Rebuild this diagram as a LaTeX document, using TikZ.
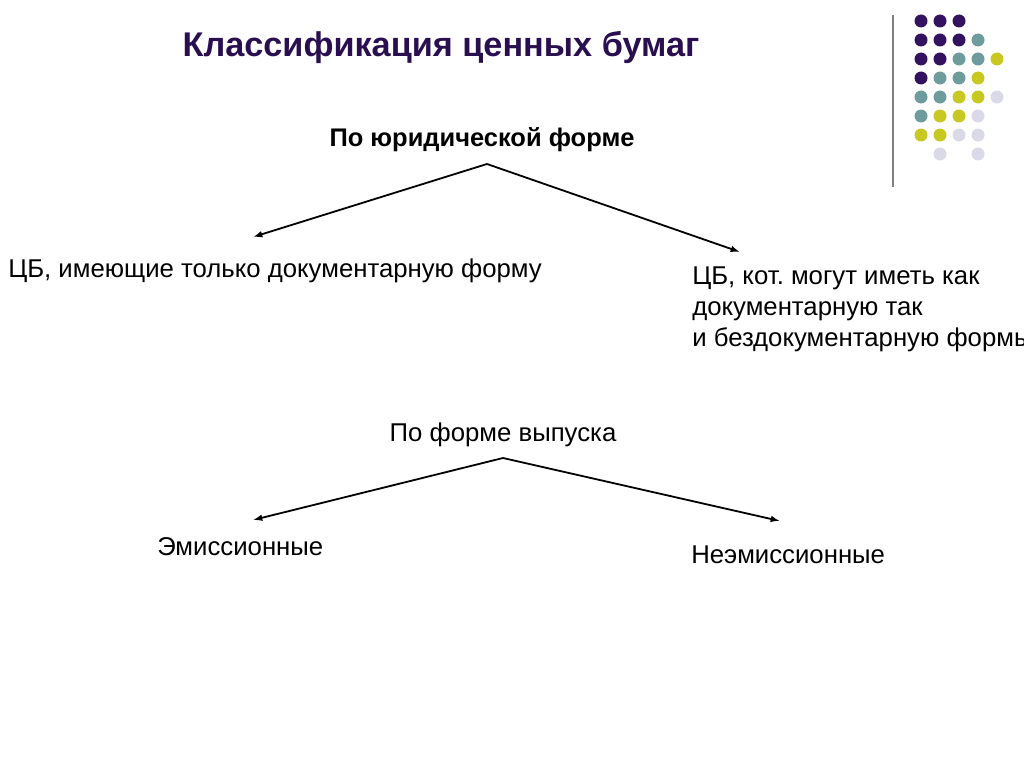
\documentclass[tikz,border=0pt]{standalone}
\usepackage{fontspec}
\setmainfont{Liberation Sans}
\usetikzlibrary{positioning,arrows.meta}

\definecolor{titlepurple}{HTML}{2A0F50}
\definecolor{dotpurple}{HTML}{33135F}
\definecolor{dotteal}{HTML}{6E9C9C}
\definecolor{dotyellow}{HTML}{C8C822}
\definecolor{dotlilac}{HTML}{D9D9E8}

\begin{document}
\frenchspacing
\begin{tikzpicture}[x=0.75pt,y=-0.75pt,
    txt/.style={inner sep=0pt,font=\fontsize{19.3}{23.25}\selectfont},
    head/.style={inner sep=0pt,font=\bfseries\fontsize{19.1}{22}\selectfont},
    branch/.style={line width=1.35pt,-{Latex[length=7pt,width=5pt]}}]
    \useasboundingbox (0,0) rectangle (1024,767);
    \clip (0,0) rectangle (1024,767);

    % title
    \node [inner sep=0pt,anchor=base,text=titlepurple,
           font=\bfseries\fontsize{25.7}{30}\selectfont] (title) at (441,57)
          {Классификация ценных бумаг};

    % decoration in the corner
    \draw [line width=1.4pt,gray] (893,15) -- (893,187);
    \foreach \c/\r/\col in {0/0/dotpurple,1/0/dotpurple,2/0/dotpurple,
        0/1/dotpurple,1/1/dotpurple,2/1/dotpurple,3/1/dotteal,
        0/2/dotpurple,1/2/dotpurple,2/2/dotteal,3/2/dotteal,4/2/dotyellow,
        0/3/dotpurple,1/3/dotteal,2/3/dotteal,3/3/dotyellow,
        0/4/dotteal,1/4/dotteal,2/4/dotyellow,3/4/dotyellow,4/4/dotlilac,
        0/5/dotteal,1/5/dotyellow,2/5/dotyellow,3/5/dotlilac,
        0/6/dotyellow,1/6/dotyellow,2/6/dotlilac,3/6/dotlilac,
        1/7/dotlilac,3/7/dotlilac}
      \fill [\col] (921+19*\c,21+19*\r) circle (6.5);

    % first split
    \node [head,anchor=base] (jur) at (482,146) {По юридической форме};
    \coordinate (jurtop) at (487,164);
    \coordinate (jurleft) at (253,237);
    \coordinate (jurright) at (740,252);
    \draw [branch] (jurtop) -- (jurleft);
    \draw [branch] (jurtop) -- (jurright);
    \node [txt,anchor=base west] (doconly) at (8,277)
          {ЦБ, имеющие только документарную форму};
    \node [txt,anchor=north west,align=left] (docboth) at (692,267)
          {ЦБ, кот. могут иметь как\\документарную так\\и бездокументарную формы};

    % second split
    \node [txt,anchor=base] (issue) at (503,441) {По форме выпуска};
    \coordinate (issuetop) at (503,458);
    \coordinate (issueleft) at (253,520);
    \coordinate (issueright) at (780,521);
    \draw [branch] (issuetop) -- (issueleft);
    \draw [branch] (issuetop) -- (issueright);
    \node [txt,anchor=base west] (emis) at (157,555) {Эмиссионные};
    \node [txt,anchor=base west] (nonemis) at (691,563) {Неэмиссионные};
\end{tikzpicture}
\end{document}
